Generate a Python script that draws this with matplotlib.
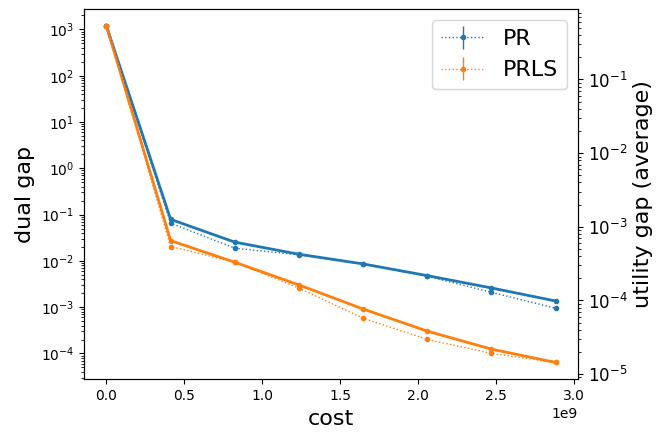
import numpy as np
import matplotlib
matplotlib.use('Agg')
import matplotlib.pyplot as plt

# cost axis (x1e9 shown as offset)
cost = [0.0, 0.412e9, 0.824e9, 1.236e9, 1.648e9, 2.06e9, 2.472e9, 2.884e9]

# dual gap (left axis, solid)
dual_pr = [1180, 0.0789, 0.0254, 0.0139, 0.00859, 0.0048, 0.0026, 0.00136]
dual_prls = [1180, 0.0274, 0.00935, 0.00302, 0.000912, 0.000304, 0.000124, 6.4e-5]

# utility gap average (right axis, dotted with error bars)
util_pr = [0.531, 0.00112, 0.000513, 0.000416, 0.000314, 0.000213, 0.000129, 7.83e-5]
util_prls = [0.531, 0.00054, 0.000331, 0.000147, 5.73e-5, 2.96e-5, 1.91e-5, 1.44e-5]
util_pr_err = [0, 0, 0, 0, 0, 0, 0, 0]
util_prls_err = [0, 0, 0, 0, 0, 0, 0, 0]

fig = plt.figure(figsize=(6.65, 4.41), dpi=100)
ax1 = fig.add_axes([0.1263, 0.14, 0.743, 0.839])
ax1.plot(cost, dual_pr, '.-', color='C0', linewidth=2)
ax1.plot(cost, dual_prls, '.-', color='C1', linewidth=2)
ax1.set_yscale('log')
ax1.set_xlabel('cost', fontsize=16)
ax1.set_ylabel('dual gap', fontsize=16)

ax2 = ax1.twinx()
ax2.errorbar(cost, util_pr, yerr=util_pr_err, fmt='.:', color='C0', linewidth=1, label='PR')
ax2.errorbar(cost, util_prls, yerr=util_prls_err, fmt='.:', color='C1', linewidth=1, label='PRLS')
ax2.set_yscale('log')
ax2.set_ylabel('utility gap (average)', fontsize=16)
ax2.tick_params(axis='y', labelsize=12)
ax2.legend(loc='upper right', fontsize=16)

plt.savefig('out.png')
